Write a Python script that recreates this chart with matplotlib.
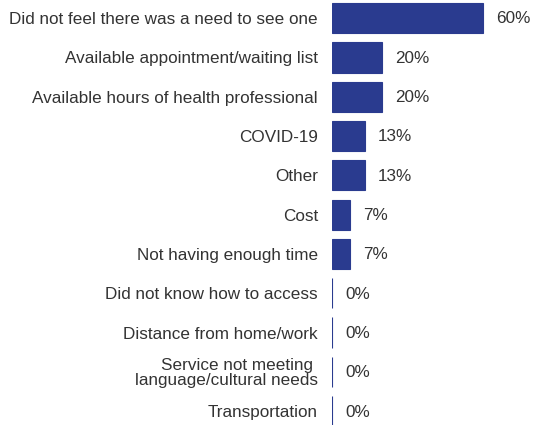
import matplotlib.pyplot as plt

plt.rcParams['font.family'] = ['Liberation Sans', 'DejaVu Sans']

categories = [
    'Did not feel there was a need to see one',
    'Available appointment/waiting list',
    'Available hours of health professional',
    'COVID-19',
    'Other',
    'Cost',
    'Not having enough time',
    'Did not know how to access',
    'Distance from home/work',
    'Service not meeting \nlanguage/cultural needs',
    'Transportation',
]
values = [60, 20, 20, 13, 13, 7, 7, 0, 0, 0, 0]
labels = ['60%', '20%', '20%', '13%', '13%', '7%', '7%', '0%', '0%', '0%', '0%']

bar_color = '#2a3b8f'
text_color = '#333333'

fig = plt.figure(figsize=(5.33, 4.25), dpi=100)
ax = fig.add_axes([332 / 533, 0, 1 - 332 / 533, 1])

ypos = list(range(len(categories)))
ax.barh(ypos, values, height=0.77, color=bar_color, edgecolor=bar_color, linewidth=0.8)

for y, v, lab in zip(ypos, values, labels):
    ax.annotate(lab, xy=(v, y), xytext=(9.5, -0.6), textcoords='offset points',
                ha='left', va='center', fontsize=12.3, color=text_color)

ax.set_xlim(0, 80)
ax.set_ylim(10.35, -0.46)
ax.set_yticks(ypos)
ax.set_yticklabels(categories, fontsize=12.3, color=text_color, linespacing=0.95)
ax.tick_params(axis='y', length=0, pad=10)
ax.set_xticks([])
for s in ax.spines.values():
    s.set_visible(False)

fig.savefig('out.png', dpi=100)
